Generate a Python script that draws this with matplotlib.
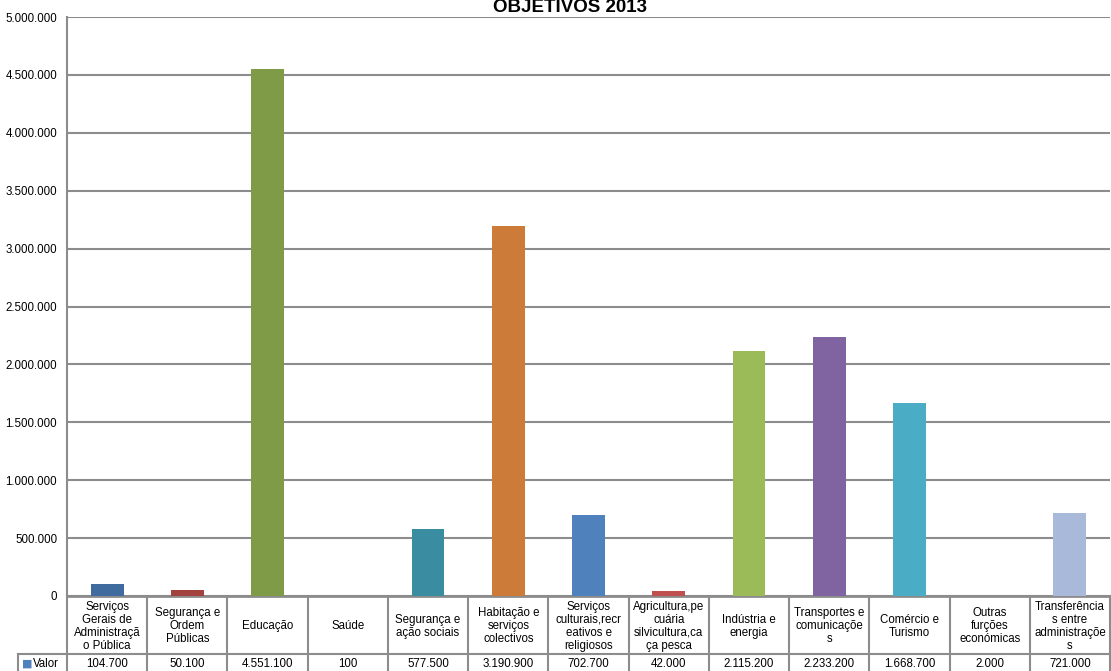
import matplotlib.pyplot as plt
from matplotlib.transforms import blended_transform_factory

categories = [
    "Serviços\nGerais de\nAdministraçã\no Pública",
    "Segurança e\nOrdem\nPúblicas",
    "Educação",
    "Saúde",
    "Segurança e\nação sociais",
    "Habitação e\nserviços\ncolectivos",
    "Serviços\nculturais,recr\neativos e\nreligiosos",
    "Agricultura,pe\ncuária\nsilvicultura,ca\nça pesca",
    "Indústria e\nenergia",
    "Transportes e\ncomunicaçõe\ns",
    "Comércio e\nTurismo",
    "Outras\nfurções\neconómicas",
    "Transferência\ns entre\nadministraçõe\ns",
]
values = [104700, 50100, 4551100, 100, 577500, 3190900, 702700,
          42000, 2115200, 2233200, 1668700, 2000, 721000]
bar_colors = ["#3F6B9E", "#A3413F", "#7F9B48", "#6D5490", "#3A8CA0",
              "#CC7B38", "#4F81BD", "#C0504D", "#9BBB59", "#8064A2",
              "#4BACC6", "#F79646", "#A9B9D9"]
yticks = [0, 500000, 1000000, 1500000, 2000000, 2500000, 3000000,
          3500000, 4000000, 4500000, 5000000]


def fmt(v):
    return f"{v:,}".replace(",", ".")


W, H = 1111, 671
fig = plt.figure(figsize=(W / 100, H / 100), dpi=100)
ax = fig.add_axes([67 / W, (H - 596) / H, (1110 - 67) / W, (596 - 17) / H])

grid_c = "#8C8C8C"
fs = 8.3
x = range(len(categories))
ax.bar(x, values, width=0.41, color=bar_colors, zorder=3)
ax.set_xlim(-0.5, len(categories) - 0.5)
ax.set_ylim(0, 5000000)
ax.set_yticks(yticks)
ax.set_yticklabels([fmt(t) for t in yticks], fontsize=fs,
                   family="Liberation Sans")
ax.tick_params(axis="y", length=0, pad=7)
ax.set_xticks([])
ax.grid(axis="y", color=grid_c, lw=1.5, zorder=0)
for s in ["top", "right"]:
    ax.spines[s].set_visible(False)
ax.spines["left"].set_color(grid_c)
ax.spines["bottom"].set_color(grid_c)
ax.spines["left"].set_linewidth(1.5)
ax.spines["bottom"].set_linewidth(2)

fig.text(570 / W, 1 - 12 / H, "OBJETIVOS 2013", ha="center", va="baseline",
         fontsize=13.5, fontweight="bold", family="Liberation Sans")

# data table under the axis
tr = blended_transform_factory(ax.transData, ax.transAxes)
ph = 596 - 17
y_mid = -58 / ph
y_bot = -75 / ph
n = len(categories)
for i in range(n + 1):
    ax.plot([i - 0.5, i - 0.5], [0, y_bot], transform=tr, color=grid_c,
            lw=1.5, clip_on=False)
ax.plot([-0.5, n - 0.5], [y_mid, y_mid], transform=tr, color=grid_c,
        lw=1.5, clip_on=False)
ax.plot([-0.5 - 49 / 80.3, -0.5], [y_mid, y_mid], transform=tr, color=grid_c,
        lw=1.5, clip_on=False)
ax.plot([-0.5 - 49 / 80.3] * 2, [y_mid, y_bot], transform=tr, color=grid_c,
        lw=1.5, clip_on=False)
for i, (c, v) in enumerate(zip(categories, values)):
    ax.text(i, y_mid / 2 - 0.002, c, transform=tr, ha="center", va="center",
            fontsize=fs, family="Liberation Sans", linespacing=1.12)
    ax.text(i, (y_mid + y_bot) / 2 - 0.003, fmt(v), transform=tr, ha="center",
            va="center", fontsize=fs, family="Liberation Sans")
ax.text(-0.5 - 40 / 80.3, (y_mid + y_bot) / 2 - 0.002, "■", transform=tr,
        ha="center", va="center", fontsize=8, color="#4F81BD")
ax.text(-0.5 - 34 / 80.3, (y_mid + y_bot) / 2 - 0.003, "Valor", transform=tr,
        ha="left", va="center", fontsize=fs, family="Liberation Sans")

fig.savefig("out.png", dpi=100)
